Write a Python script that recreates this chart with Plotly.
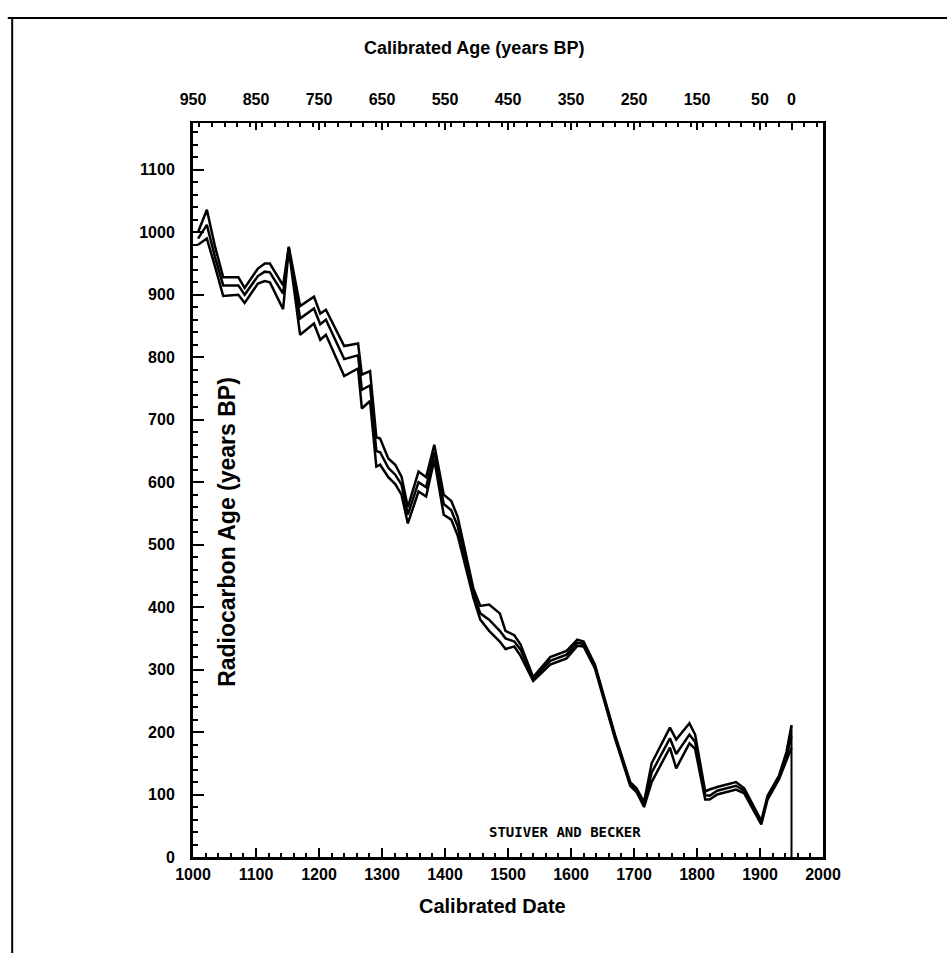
import plotly.graph_objects as go

# Calibrated date (AD) and radiocarbon ages (years BP): upper, central and lower curves
dates = [1008, 1022, 1035, 1048, 1072, 1082, 1103, 1114, 1122, 1143,
         1152, 1170, 1192, 1202, 1211, 1240, 1262, 1268, 1281, 1291,
         1297, 1310, 1321, 1331, 1341, 1358, 1370, 1383, 1398, 1410,
         1420, 1432, 1445, 1456, 1470, 1487, 1496, 1510, 1520, 1540,
         1552, 1567, 1593, 1610, 1620, 1638, 1670, 1694, 1704, 1716,
         1728, 1757, 1767, 1788, 1797, 1813, 1820, 1832, 1862, 1875,
         1902, 1912, 1930, 1942, 1950]
age_upper = [1000, 1036, 977, 928, 928, 911, 942, 950, 950, 915,
             977, 882, 897, 870, 876, 818, 822, 772, 778, 672,
             670, 638, 628, 609, 560, 617, 608, 660, 580, 570,
             545, 490, 430, 402, 404, 390, 362, 355, 340, 288,
             303, 320, 330, 348, 345, 308, 195, 120, 110, 88,
             150, 207, 188, 214, 196, 105, 108, 112, 120, 110,
             58, 98, 130, 168, 211]
age_mid = [990, 1012, 960, 915, 915, 900, 930, 937, 936, 902,
           975, 862, 878, 853, 860, 797, 803, 748, 755, 650,
           648, 623, 612, 596, 548, 600, 592, 648, 565, 555,
           530, 478, 422, 390, 380, 362, 350, 345, 332, 285,
           298, 314, 324, 343, 341, 305, 192, 117, 107, 84,
           135, 190, 165, 196, 184, 99, 98, 106, 114, 106,
           55, 95, 127, 162, 193]
age_lower = [980, 990, 945, 898, 900, 887, 918, 922, 920, 877,
             973, 836, 854, 828, 836, 770, 782, 718, 730, 625,
             628, 608, 597, 580, 534, 585, 577, 636, 548, 540,
             515, 468, 415, 380, 362, 345, 333, 337, 322, 282,
             293, 308, 318, 338, 337, 302, 189, 114, 104, 80,
             120, 175, 142, 182, 173, 92, 92, 100, 108, 102,
             52, 92, 124, 156, 175]

# marker line at 0 BP (AD 1950)
zero_bp_line_bp = [0, 0]
zero_bp_line_age = [0, 211]

bottom_ticks = [1000, 1100, 1200, 1300, 1400, 1500, 1600, 1700, 1800, 1900, 2000]
top_ticks = [950, 850, 750, 650, 550, 450, 350, 250, 150, 50, 0]
y_ticks = [0, 100, 200, 300, 400, 500, 600, 700, 800, 900, 1000, 1100]

TICKFONT = dict(family="Liberation Sans, Arial", size=16, color="black")
TF_BOLD = "<b>{}</b>"

fig = go.Figure()
for series in (age_upper, age_mid, age_lower):
    fig.add_trace(go.Scatter(x=dates, y=series, mode="lines",
                             line=dict(color="black", width=2.5),
                             showlegend=False, hoverinfo="skip"))
fig.add_trace(go.Scatter(x=zero_bp_line_bp, y=zero_bp_line_age, xaxis="x2",
                         mode="lines", line=dict(color="black", width=2),
                         showlegend=False, hoverinfo="skip"))

fig.update_layout(
    width=947, height=953,
    margin=dict(l=193, r=124, t=123, b=96),
    paper_bgcolor="white", plot_bgcolor="white",
    xaxis=dict(range=[1000, 2000], tickvals=bottom_ticks,
               ticktext=[TF_BOLD.format(v) for v in bottom_ticks],
               ticks="inside", ticklen=9, tickwidth=2, tickcolor="black",
               minor=dict(dtick=20, ticks="inside", ticklen=4, tickwidth=2, tickcolor="black"),
               showline=True, linecolor="black", linewidth=3,
               showgrid=False, zeroline=False, tickfont=TICKFONT,
               ticklabelstandoff=1),
    xaxis2=dict(range=[950, -50], overlaying="x", side="top", anchor="y",
                tickvals=top_ticks, ticktext=[TF_BOLD.format(v) for v in top_ticks],
                ticks="inside", ticklen=7, tickwidth=2, tickcolor="black",
                minor=dict(dtick=20, ticks="inside", ticklen=4, tickwidth=2, tickcolor="black"),
                showline=True, linecolor="black", linewidth=2,
                showgrid=False, zeroline=False, tickfont=TICKFONT,
                ticklabelstandoff=10),
    yaxis=dict(range=[0, 1175], tickvals=y_ticks,
               ticktext=[TF_BOLD.format(v) for v in y_ticks],
               ticks="inside", ticklen=11, tickwidth=2, tickcolor="black",
               minor=dict(dtick=20, ticks="inside", ticklen=5, tickwidth=2, tickcolor="black"),
               showline=True, linecolor="black", linewidth=3, mirror=True,
               showgrid=False, zeroline=False, tickfont=TICKFONT,
               ticklabelstandoff=12),
)

title_font = dict(family="Liberation Sans, Arial", color="black")
fig.add_annotation(text="<b>Calibrated Age (years BP)</b>", xref="paper", yref="paper",
                   x=0.446, y=1.102, xanchor="center", yanchor="middle",
                   showarrow=False, font=dict(size=18, **title_font))
fig.add_annotation(text="<b>Calibrated Date</b>", xref="paper", yref="paper",
                   x=0.476, y=-0.067, xanchor="center", yanchor="middle",
                   showarrow=False, font=dict(size=20, **title_font))
fig.add_annotation(text="<b>Radiocarbon Age (years BP)</b>", xref="paper", yref="paper",
                   x=0.054, y=0.443, xanchor="center", yanchor="middle",
                   showarrow=False, textangle=-90,
                   font=dict(size=23, **title_font))
fig.add_annotation(text="<b>STUIVER AND BECKER</b>", xref="x", yref="y",
                   x=1590, y=40, xanchor="center", yanchor="middle", showarrow=False,
                   font=dict(family="DejaVu Sans Mono", size=14, color="black"))

# page frame (top and left rules)
fig.add_shape(type="line", xref="paper", yref="paper", x0=-0.294, x1=1.2, y0=1.143, y1=1.143,
              line=dict(color="black", width=2))
fig.add_shape(type="line", xref="paper", yref="paper", x0=-0.287, x1=-0.287, y0=1.143, y1=-0.14,
              line=dict(color="black", width=2))

fig.write_html("out.html", config={"displayModeBar": False},
               post_script="document.body.style.margin='0';document.body.style.overflow='hidden';")
